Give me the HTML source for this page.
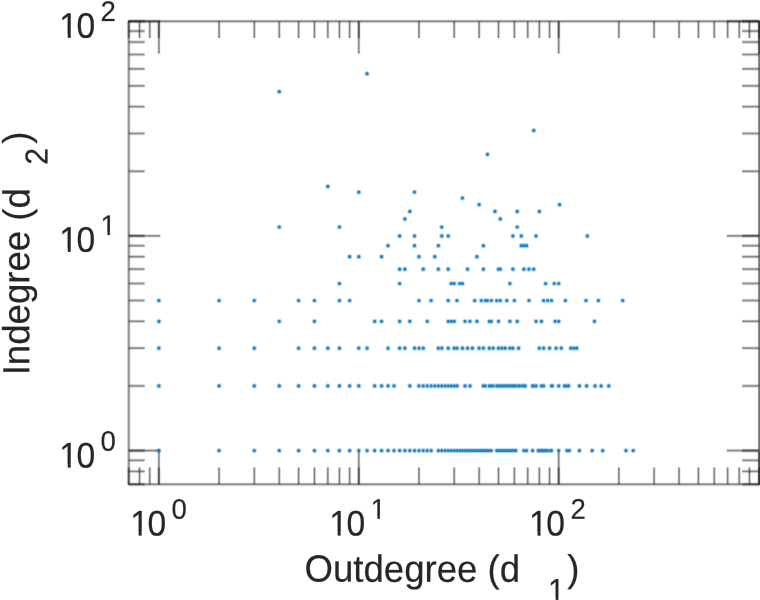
<!DOCTYPE html>
<html><head><meta charset="utf-8"><title>Degree scatter</title>
<style>
html,body{margin:0;padding:0;background:#fff;}
body{width:760px;height:600px;overflow:hidden;}
svg{display:block;}
text{font-family:"Liberation Sans",Arial,Helvetica,sans-serif;fill:#262626;stroke:#262626;stroke-width:0.35px;stroke-opacity:0.5;text-rendering:geometricPrecision;}
</style></head><body>
<svg width="760" height="600" viewBox="0 0 760 600">
<defs><clipPath id="c33_6"><rect x="-3.36" y="-33.60" width="33.60" height="30.24"/><rect x="8.45" y="-33.60" width="2.97" height="40.32"/></clipPath><clipPath id="c27_6"><rect x="-2.76" y="-27.60" width="27.60" height="24.84"/><rect x="6.94" y="-27.60" width="2.44" height="33.12"/></clipPath><clipPath id="c30_4"><rect x="-3.04" y="-30.40" width="30.40" height="27.36"/><rect x="7.65" y="-30.40" width="2.69" height="36.48"/></clipPath></defs>
<rect width="760" height="600" fill="#fff"/>
<g>
<g stroke="#262626" fill="none">
<path stroke-width="3.8" stroke-opacity="0.12" d="M128.25 21.3H759.7M128.25 484.3H759.7"/>
<path stroke-width="2.4" stroke-opacity="0.22" d="M128.25 21.3H759.7M128.25 484.3H759.7"/>
<path stroke-width="1.2" stroke-opacity="0.3" d="M128.25 21.3H759.7M128.25 484.3H759.7"/>
<path stroke-width="3.2" stroke-opacity="0.12" d="M759.2 20.8V484.8"/>
<path stroke-width="2.0" stroke-opacity="0.25" d="M759.2 20.8V484.8"/>
<path stroke-width="1.0" stroke-opacity="0.4" d="M759.2 20.8V484.8"/>
<path stroke-width="3.8" stroke-opacity="0.12" d="M128.75 20.8V484.8"/>
<path stroke-width="2.4" stroke-opacity="0.22" d="M128.75 20.8V484.8"/>
<path stroke-width="1.2" stroke-opacity="0.3" d="M128.75 20.8V484.8"/>
<path stroke-width="1.3" stroke-opacity="0.3" d="M759.2 21.3V484.3"/>
<path stroke-width="3.8" stroke-opacity="0.12" d="M128.75 450.55L160.25 450.55M759.20 450.55L726.80 450.55M128.75 235.90L160.25 235.90M759.20 235.90L726.80 235.90M128.75 21.30L160.25 21.30M759.20 21.30L726.80 21.30"/>
<path stroke-width="2.4" stroke-opacity="0.22" d="M128.75 450.55L160.25 450.55M759.20 450.55L726.80 450.55M128.75 235.90L160.25 235.90M759.20 235.90L726.80 235.90M128.75 21.30L160.25 21.30M759.20 21.30L726.80 21.30"/>
<path stroke-width="1.2" stroke-opacity="0.3" d="M128.75 450.55L160.25 450.55M759.20 450.55L726.80 450.55M128.75 235.90L160.25 235.90M759.20 235.90L726.80 235.90M128.75 21.30L160.25 21.30M759.20 21.30L726.80 21.30"/>
<path stroke-width="3.2" stroke-opacity="0.12" d="M158.90 484.30L158.90 452.00M158.90 21.30L158.90 53.60M358.80 484.30L358.80 452.00M358.80 21.30L358.80 53.60M558.70 484.30L558.70 452.00M558.70 21.30L558.70 53.60M759.20 484.30L759.20 452.00M759.20 21.30L759.20 53.60"/>
<path stroke-width="2.0" stroke-opacity="0.25" d="M158.90 484.30L158.90 452.00M158.90 21.30L158.90 53.60M358.80 484.30L358.80 452.00M358.80 21.30L358.80 53.60M558.70 484.30L558.70 452.00M558.70 21.30L558.70 53.60M759.20 484.30L759.20 452.00M759.20 21.30L759.20 53.60"/>
<path stroke-width="1.0" stroke-opacity="0.4" d="M158.90 484.30L158.90 452.00M158.90 21.30L158.90 53.60M358.80 484.30L358.80 452.00M358.80 21.30L358.80 53.60M558.70 484.30L558.70 452.00M558.70 21.30L558.70 53.60M759.20 484.30L759.20 452.00M759.20 21.30L759.20 53.60"/>
<path stroke-width="3.8" stroke-opacity="0.12" d="M128.75 484.30L144.65 484.30M759.20 484.30L742.20 484.30M128.75 471.35L144.65 471.35M759.20 471.35L742.20 471.35M128.75 460.37L144.65 460.37M759.20 460.37L742.20 460.37M128.75 450.55L144.65 450.55M759.20 450.55L742.20 450.55M128.75 385.93L144.65 385.93M759.20 385.93L742.20 385.93M128.75 348.14L144.65 348.14M759.20 348.14L742.20 348.14M128.75 321.32L144.65 321.32M759.20 321.32L742.20 321.32M128.75 300.52L144.65 300.52M759.20 300.52L742.20 300.52M128.75 283.52L144.65 283.52M759.20 283.52L742.20 283.52M128.75 269.15L144.65 269.15M759.20 269.15L742.20 269.15M128.75 256.70L144.65 256.70M759.20 256.70L742.20 256.70M128.75 245.72L144.65 245.72M759.20 245.72L742.20 245.72M128.75 235.90L144.65 235.90M759.20 235.90L742.20 235.90M128.75 171.28L144.65 171.28M759.20 171.28L742.20 171.28M128.75 133.49L144.65 133.49M759.20 133.49L742.20 133.49M128.75 106.67L144.65 106.67M759.20 106.67L742.20 106.67M128.75 85.87L144.65 85.87M759.20 85.87L742.20 85.87M128.75 68.87L144.65 68.87M759.20 68.87L742.20 68.87M128.75 54.50L144.65 54.50M759.20 54.50L742.20 54.50M128.75 42.05L144.65 42.05M759.20 42.05L742.20 42.05M128.75 31.07L144.65 31.07M759.20 31.07L742.20 31.07M128.75 21.30L144.65 21.30M759.20 21.30L742.20 21.30"/>
<path stroke-width="2.4" stroke-opacity="0.22" d="M128.75 484.30L144.65 484.30M759.20 484.30L742.20 484.30M128.75 471.35L144.65 471.35M759.20 471.35L742.20 471.35M128.75 460.37L144.65 460.37M759.20 460.37L742.20 460.37M128.75 450.55L144.65 450.55M759.20 450.55L742.20 450.55M128.75 385.93L144.65 385.93M759.20 385.93L742.20 385.93M128.75 348.14L144.65 348.14M759.20 348.14L742.20 348.14M128.75 321.32L144.65 321.32M759.20 321.32L742.20 321.32M128.75 300.52L144.65 300.52M759.20 300.52L742.20 300.52M128.75 283.52L144.65 283.52M759.20 283.52L742.20 283.52M128.75 269.15L144.65 269.15M759.20 269.15L742.20 269.15M128.75 256.70L144.65 256.70M759.20 256.70L742.20 256.70M128.75 245.72L144.65 245.72M759.20 245.72L742.20 245.72M128.75 235.90L144.65 235.90M759.20 235.90L742.20 235.90M128.75 171.28L144.65 171.28M759.20 171.28L742.20 171.28M128.75 133.49L144.65 133.49M759.20 133.49L742.20 133.49M128.75 106.67L144.65 106.67M759.20 106.67L742.20 106.67M128.75 85.87L144.65 85.87M759.20 85.87L742.20 85.87M128.75 68.87L144.65 68.87M759.20 68.87L742.20 68.87M128.75 54.50L144.65 54.50M759.20 54.50L742.20 54.50M128.75 42.05L144.65 42.05M759.20 42.05L742.20 42.05M128.75 31.07L144.65 31.07M759.20 31.07L742.20 31.07M128.75 21.30L144.65 21.30M759.20 21.30L742.20 21.30"/>
<path stroke-width="1.2" stroke-opacity="0.3" d="M128.75 484.30L144.65 484.30M759.20 484.30L742.20 484.30M128.75 471.35L144.65 471.35M759.20 471.35L742.20 471.35M128.75 460.37L144.65 460.37M759.20 460.37L742.20 460.37M128.75 450.55L144.65 450.55M759.20 450.55L742.20 450.55M128.75 385.93L144.65 385.93M759.20 385.93L742.20 385.93M128.75 348.14L144.65 348.14M759.20 348.14L742.20 348.14M128.75 321.32L144.65 321.32M759.20 321.32L742.20 321.32M128.75 300.52L144.65 300.52M759.20 300.52L742.20 300.52M128.75 283.52L144.65 283.52M759.20 283.52L742.20 283.52M128.75 269.15L144.65 269.15M759.20 269.15L742.20 269.15M128.75 256.70L144.65 256.70M759.20 256.70L742.20 256.70M128.75 245.72L144.65 245.72M759.20 245.72L742.20 245.72M128.75 235.90L144.65 235.90M759.20 235.90L742.20 235.90M128.75 171.28L144.65 171.28M759.20 171.28L742.20 171.28M128.75 133.49L144.65 133.49M759.20 133.49L742.20 133.49M128.75 106.67L144.65 106.67M759.20 106.67L742.20 106.67M128.75 85.87L144.65 85.87M759.20 85.87L742.20 85.87M128.75 68.87L144.65 68.87M759.20 68.87L742.20 68.87M128.75 54.50L144.65 54.50M759.20 54.50L742.20 54.50M128.75 42.05L144.65 42.05M759.20 42.05L742.20 42.05M128.75 31.07L144.65 31.07M759.20 31.07L742.20 31.07M128.75 21.30L144.65 21.30M759.20 21.30L742.20 21.30"/>
<path stroke-width="3.2" stroke-opacity="0.12" d="M128.75 484.30L128.75 467.50M128.75 21.30L128.75 38.10M139.53 484.30L139.53 467.50M139.53 21.30L139.53 38.10M149.75 484.30L149.75 467.50M149.75 21.30L149.75 38.10M158.90 484.30L158.90 467.50M158.90 21.30L158.90 38.10M219.08 484.30L219.08 467.50M219.08 21.30L219.08 38.10M254.28 484.30L254.28 467.50M254.28 21.30L254.28 38.10M279.25 484.30L279.25 467.50M279.25 21.30L279.25 38.10M298.62 484.30L298.62 467.50M298.62 21.30L298.62 38.10M314.45 484.30L314.45 467.50M314.45 21.30L314.45 38.10M327.84 484.30L327.84 467.50M327.84 21.30L327.84 38.10M339.43 484.30L339.43 467.50M339.43 21.30L339.43 38.10M349.65 484.30L349.65 467.50M349.65 21.30L349.65 38.10M358.80 484.30L358.80 467.50M358.80 21.30L358.80 38.10M418.98 484.30L418.98 467.50M418.98 21.30L418.98 38.10M454.18 484.30L454.18 467.50M454.18 21.30L454.18 38.10M479.15 484.30L479.15 467.50M479.15 21.30L479.15 38.10M498.52 484.30L498.52 467.50M498.52 21.30L498.52 38.10M514.35 484.30L514.35 467.50M514.35 21.30L514.35 38.10M527.74 484.30L527.74 467.50M527.74 21.30L527.74 38.10M539.33 484.30L539.33 467.50M539.33 21.30L539.33 38.10M549.55 484.30L549.55 467.50M549.55 21.30L549.55 38.10M558.70 484.30L558.70 467.50M558.70 21.30L558.70 38.10M618.88 484.30L618.88 467.50M618.88 21.30L618.88 38.10M654.08 484.30L654.08 467.50M654.08 21.30L654.08 38.10M679.05 484.30L679.05 467.50M679.05 21.30L679.05 38.10M698.42 484.30L698.42 467.50M698.42 21.30L698.42 38.10M714.25 484.30L714.25 467.50M714.25 21.30L714.25 38.10M727.64 484.30L727.64 467.50M727.64 21.30L727.64 38.10M739.23 484.30L739.23 467.50M739.23 21.30L739.23 38.10M749.45 484.30L749.45 467.50M749.45 21.30L749.45 38.10M759.20 484.30L759.20 467.50M759.20 21.30L759.20 38.10"/>
<path stroke-width="2.0" stroke-opacity="0.25" d="M128.75 484.30L128.75 467.50M128.75 21.30L128.75 38.10M139.53 484.30L139.53 467.50M139.53 21.30L139.53 38.10M149.75 484.30L149.75 467.50M149.75 21.30L149.75 38.10M158.90 484.30L158.90 467.50M158.90 21.30L158.90 38.10M219.08 484.30L219.08 467.50M219.08 21.30L219.08 38.10M254.28 484.30L254.28 467.50M254.28 21.30L254.28 38.10M279.25 484.30L279.25 467.50M279.25 21.30L279.25 38.10M298.62 484.30L298.62 467.50M298.62 21.30L298.62 38.10M314.45 484.30L314.45 467.50M314.45 21.30L314.45 38.10M327.84 484.30L327.84 467.50M327.84 21.30L327.84 38.10M339.43 484.30L339.43 467.50M339.43 21.30L339.43 38.10M349.65 484.30L349.65 467.50M349.65 21.30L349.65 38.10M358.80 484.30L358.80 467.50M358.80 21.30L358.80 38.10M418.98 484.30L418.98 467.50M418.98 21.30L418.98 38.10M454.18 484.30L454.18 467.50M454.18 21.30L454.18 38.10M479.15 484.30L479.15 467.50M479.15 21.30L479.15 38.10M498.52 484.30L498.52 467.50M498.52 21.30L498.52 38.10M514.35 484.30L514.35 467.50M514.35 21.30L514.35 38.10M527.74 484.30L527.74 467.50M527.74 21.30L527.74 38.10M539.33 484.30L539.33 467.50M539.33 21.30L539.33 38.10M549.55 484.30L549.55 467.50M549.55 21.30L549.55 38.10M558.70 484.30L558.70 467.50M558.70 21.30L558.70 38.10M618.88 484.30L618.88 467.50M618.88 21.30L618.88 38.10M654.08 484.30L654.08 467.50M654.08 21.30L654.08 38.10M679.05 484.30L679.05 467.50M679.05 21.30L679.05 38.10M698.42 484.30L698.42 467.50M698.42 21.30L698.42 38.10M714.25 484.30L714.25 467.50M714.25 21.30L714.25 38.10M727.64 484.30L727.64 467.50M727.64 21.30L727.64 38.10M739.23 484.30L739.23 467.50M739.23 21.30L739.23 38.10M749.45 484.30L749.45 467.50M749.45 21.30L749.45 38.10M759.20 484.30L759.20 467.50M759.20 21.30L759.20 38.10"/>
<path stroke-width="1.0" stroke-opacity="0.4" d="M128.75 484.30L128.75 467.50M128.75 21.30L128.75 38.10M139.53 484.30L139.53 467.50M139.53 21.30L139.53 38.10M149.75 484.30L149.75 467.50M149.75 21.30L149.75 38.10M158.90 484.30L158.90 467.50M158.90 21.30L158.90 38.10M219.08 484.30L219.08 467.50M219.08 21.30L219.08 38.10M254.28 484.30L254.28 467.50M254.28 21.30L254.28 38.10M279.25 484.30L279.25 467.50M279.25 21.30L279.25 38.10M298.62 484.30L298.62 467.50M298.62 21.30L298.62 38.10M314.45 484.30L314.45 467.50M314.45 21.30L314.45 38.10M327.84 484.30L327.84 467.50M327.84 21.30L327.84 38.10M339.43 484.30L339.43 467.50M339.43 21.30L339.43 38.10M349.65 484.30L349.65 467.50M349.65 21.30L349.65 38.10M358.80 484.30L358.80 467.50M358.80 21.30L358.80 38.10M418.98 484.30L418.98 467.50M418.98 21.30L418.98 38.10M454.18 484.30L454.18 467.50M454.18 21.30L454.18 38.10M479.15 484.30L479.15 467.50M479.15 21.30L479.15 38.10M498.52 484.30L498.52 467.50M498.52 21.30L498.52 38.10M514.35 484.30L514.35 467.50M514.35 21.30L514.35 38.10M527.74 484.30L527.74 467.50M527.74 21.30L527.74 38.10M539.33 484.30L539.33 467.50M539.33 21.30L539.33 38.10M549.55 484.30L549.55 467.50M549.55 21.30L549.55 38.10M558.70 484.30L558.70 467.50M558.70 21.30L558.70 38.10M618.88 484.30L618.88 467.50M618.88 21.30L618.88 38.10M654.08 484.30L654.08 467.50M654.08 21.30L654.08 38.10M679.05 484.30L679.05 467.50M679.05 21.30L679.05 38.10M698.42 484.30L698.42 467.50M698.42 21.30L698.42 38.10M714.25 484.30L714.25 467.50M714.25 21.30L714.25 38.10M727.64 484.30L727.64 467.50M727.64 21.30L727.64 38.10M739.23 484.30L739.23 467.50M739.23 21.30L739.23 38.10M749.45 484.30L749.45 467.50M749.45 21.30L749.45 38.10M759.20 484.30L759.20 467.50M759.20 21.30L759.20 38.10"/>
</g>
<g fill="none" stroke="#0072BD" stroke-linecap="round">
<path stroke-width="5.2" stroke-opacity="0.28" d="M158.90 450.55h0M219.08 450.55h0M254.28 450.55h0M279.25 450.55h0M298.62 450.55h0M314.45 450.55h0M327.84 450.55h0M339.43 450.55h0M349.65 450.55h0M358.80 450.55h0M367.07 450.55h0M374.63 450.55h0M381.58 450.55h0M388.01 450.55h0M394.00 450.55h0M399.60 450.55h0M404.87 450.55h0M409.83 450.55h0M414.52 450.55h0M418.98 450.55h0M423.21 450.55h0M427.25 450.55h0M431.11 450.55h0M438.35 450.55h0M441.75 450.55h0M445.03 450.55h0M448.19 450.55h0M451.23 450.55h0M454.18 450.55h0M457.02 450.55h0M459.78 450.55h0M462.45 450.55h0M465.04 450.55h0M467.56 450.55h0M470.00 450.55h0M472.38 450.55h0M474.70 450.55h0M476.95 450.55h0M479.15 450.55h0M481.30 450.55h0M483.39 450.55h0M485.43 450.55h0M487.43 450.55h0M489.38 450.55h0M491.29 450.55h0M496.77 450.55h0M498.52 450.55h0M500.24 450.55h0M501.93 450.55h0M503.58 450.55h0M505.21 450.55h0M506.80 450.55h0M508.36 450.55h0M509.90 450.55h0M511.41 450.55h0M512.89 450.55h0M514.35 450.55h0M515.79 450.55h0M523.93 450.55h0M526.49 450.55h0M532.56 450.55h0M538.24 450.55h0M539.33 450.55h0M540.41 450.55h0M541.47 450.55h0M542.52 450.55h0M543.56 450.55h0M544.59 450.55h0M545.61 450.55h0M546.61 450.55h0M547.60 450.55h0M550.51 450.55h0M551.46 450.55h0M558.70 450.55h0M566.97 450.55h0M569.31 450.55h0M579.45 450.55h0M592.15 450.55h0M602.70 450.55h0M625.96 450.55h0M633.25 450.55h0M158.90 385.93h0M219.08 385.93h0M254.28 385.93h0M279.25 385.93h0M298.62 385.93h0M314.45 385.93h0M327.84 385.93h0M339.43 385.93h0M349.65 385.93h0M358.80 385.93h0M374.63 385.93h0M381.58 385.93h0M388.01 385.93h0M394.00 385.93h0M409.83 385.93h0M418.98 385.93h0M423.21 385.93h0M427.25 385.93h0M431.11 385.93h0M434.80 385.93h0M438.35 385.93h0M441.75 385.93h0M445.03 385.93h0M448.19 385.93h0M451.23 385.93h0M454.18 385.93h0M457.02 385.93h0M465.04 385.93h0M470.00 385.93h0M483.39 385.93h0M485.43 385.93h0M489.38 385.93h0M491.29 385.93h0M493.15 385.93h0M496.77 385.93h0M498.52 385.93h0M500.24 385.93h0M501.93 385.93h0M503.58 385.93h0M505.21 385.93h0M506.80 385.93h0M508.36 385.93h0M509.90 385.93h0M511.41 385.93h0M512.89 385.93h0M514.35 385.93h0M515.79 385.93h0M518.59 385.93h0M519.96 385.93h0M522.63 385.93h0M523.93 385.93h0M525.22 385.93h0M532.56 385.93h0M533.72 385.93h0M536.01 385.93h0M541.47 385.93h0M543.56 385.93h0M551.46 385.93h0M552.40 385.93h0M558.70 385.93h0M564.57 385.93h0M566.18 385.93h0M568.54 385.93h0M579.45 385.93h0M586.66 385.93h0M595.05 385.93h0M601.12 385.93h0M608.76 385.93h0M158.90 348.14h0M219.08 348.14h0M254.28 348.14h0M298.62 348.14h0M314.45 348.14h0M327.84 348.14h0M339.43 348.14h0M358.80 348.14h0M367.07 348.14h0M388.01 348.14h0M399.60 348.14h0M404.87 348.14h0M414.52 348.14h0M418.98 348.14h0M423.21 348.14h0M438.35 348.14h0M441.75 348.14h0M448.19 348.14h0M454.18 348.14h0M457.02 348.14h0M462.45 348.14h0M467.56 348.14h0M472.38 348.14h0M479.15 348.14h0M483.39 348.14h0M489.38 348.14h0M493.15 348.14h0M498.52 348.14h0M501.93 348.14h0M505.21 348.14h0M509.90 348.14h0M512.89 348.14h0M518.59 348.14h0M539.33 348.14h0M543.56 348.14h0M549.55 348.14h0M556.06 348.14h0M561.27 348.14h0M570.83 348.14h0M573.80 348.14h0M576.67 348.14h0M158.90 321.32h0M279.25 321.32h0M314.45 321.32h0M374.63 321.32h0M381.58 321.32h0M399.60 321.32h0M409.83 321.32h0M427.25 321.32h0M448.19 321.32h0M451.23 321.32h0M454.18 321.32h0M465.04 321.32h0M470.00 321.32h0M476.95 321.32h0M489.38 321.32h0M491.29 321.32h0M498.52 321.32h0M509.90 321.32h0M517.20 321.32h0M536.01 321.32h0M541.47 321.32h0M555.16 321.32h0M558.70 321.32h0M594.48 321.32h0M158.90 300.52h0M219.08 300.52h0M254.28 300.52h0M298.62 300.52h0M314.45 300.52h0M339.43 300.52h0M349.65 300.52h0M418.98 300.52h0M431.11 300.52h0M448.19 300.52h0M457.02 300.52h0M474.70 300.52h0M481.30 300.52h0M485.43 300.52h0M487.43 300.52h0M491.29 300.52h0M496.77 300.52h0M500.24 300.52h0M506.80 300.52h0M514.35 300.52h0M528.97 300.52h0M543.56 300.52h0M547.60 300.52h0M551.46 300.52h0M565.38 300.52h0M586.03 300.52h0M598.41 300.52h0M622.70 300.52h0M339.43 283.52h0M399.60 283.52h0M451.23 283.52h0M454.18 283.52h0M459.78 283.52h0M462.45 283.52h0M509.90 283.52h0M545.61 283.52h0M554.25 283.52h0M558.70 283.52h0M399.60 269.15h0M404.87 269.15h0M423.21 269.15h0M438.35 269.15h0M448.19 269.15h0M467.56 269.15h0M483.39 269.15h0M498.52 269.15h0M500.24 269.15h0M512.89 269.15h0M523.93 269.15h0M528.97 269.15h0M533.72 269.15h0M349.65 256.70h0M358.80 256.70h0M381.58 256.70h0M418.98 256.70h0M434.80 256.70h0M476.95 256.70h0M388.01 245.72h0M414.52 245.72h0M438.35 245.72h0M483.39 245.72h0M521.30 245.72h0M523.93 245.72h0M526.49 245.72h0M399.60 235.90h0M414.52 235.90h0M441.75 235.90h0M448.19 235.90h0M512.89 235.90h0M521.30 235.90h0M536.01 235.90h0M587.29 235.90h0M279.25 227.02h0M339.43 227.02h0M441.75 227.02h0M517.20 227.02h0M404.87 218.90h0M500.24 218.90h0M409.83 211.44h0M494.98 211.44h0M517.20 211.44h0M539.33 211.44h0M479.15 204.53h0M559.56 204.53h0M462.45 198.10h0M358.80 192.09h0M414.52 192.09h0M327.84 186.43h0M487.43 154.29h0M533.72 130.43h0M279.25 91.63h0M367.07 73.65h0"/>
<path stroke-width="3.2" stroke-opacity="0.8" d="M158.90 450.55h0M219.08 450.55h0M254.28 450.55h0M279.25 450.55h0M298.62 450.55h0M314.45 450.55h0M327.84 450.55h0M339.43 450.55h0M349.65 450.55h0M358.80 450.55h0M367.07 450.55h0M374.63 450.55h0M381.58 450.55h0M388.01 450.55h0M394.00 450.55h0M399.60 450.55h0M404.87 450.55h0M409.83 450.55h0M414.52 450.55h0M418.98 450.55h0M423.21 450.55h0M427.25 450.55h0M431.11 450.55h0M438.35 450.55h0M441.75 450.55h0M445.03 450.55h0M448.19 450.55h0M451.23 450.55h0M454.18 450.55h0M457.02 450.55h0M459.78 450.55h0M462.45 450.55h0M465.04 450.55h0M467.56 450.55h0M470.00 450.55h0M472.38 450.55h0M474.70 450.55h0M476.95 450.55h0M479.15 450.55h0M481.30 450.55h0M483.39 450.55h0M485.43 450.55h0M487.43 450.55h0M489.38 450.55h0M491.29 450.55h0M496.77 450.55h0M498.52 450.55h0M500.24 450.55h0M501.93 450.55h0M503.58 450.55h0M505.21 450.55h0M506.80 450.55h0M508.36 450.55h0M509.90 450.55h0M511.41 450.55h0M512.89 450.55h0M514.35 450.55h0M515.79 450.55h0M523.93 450.55h0M526.49 450.55h0M532.56 450.55h0M538.24 450.55h0M539.33 450.55h0M540.41 450.55h0M541.47 450.55h0M542.52 450.55h0M543.56 450.55h0M544.59 450.55h0M545.61 450.55h0M546.61 450.55h0M547.60 450.55h0M550.51 450.55h0M551.46 450.55h0M558.70 450.55h0M566.97 450.55h0M569.31 450.55h0M579.45 450.55h0M592.15 450.55h0M602.70 450.55h0M625.96 450.55h0M633.25 450.55h0M158.90 385.93h0M219.08 385.93h0M254.28 385.93h0M279.25 385.93h0M298.62 385.93h0M314.45 385.93h0M327.84 385.93h0M339.43 385.93h0M349.65 385.93h0M358.80 385.93h0M374.63 385.93h0M381.58 385.93h0M388.01 385.93h0M394.00 385.93h0M409.83 385.93h0M418.98 385.93h0M423.21 385.93h0M427.25 385.93h0M431.11 385.93h0M434.80 385.93h0M438.35 385.93h0M441.75 385.93h0M445.03 385.93h0M448.19 385.93h0M451.23 385.93h0M454.18 385.93h0M457.02 385.93h0M465.04 385.93h0M470.00 385.93h0M483.39 385.93h0M485.43 385.93h0M489.38 385.93h0M491.29 385.93h0M493.15 385.93h0M496.77 385.93h0M498.52 385.93h0M500.24 385.93h0M501.93 385.93h0M503.58 385.93h0M505.21 385.93h0M506.80 385.93h0M508.36 385.93h0M509.90 385.93h0M511.41 385.93h0M512.89 385.93h0M514.35 385.93h0M515.79 385.93h0M518.59 385.93h0M519.96 385.93h0M522.63 385.93h0M523.93 385.93h0M525.22 385.93h0M532.56 385.93h0M533.72 385.93h0M536.01 385.93h0M541.47 385.93h0M543.56 385.93h0M551.46 385.93h0M552.40 385.93h0M558.70 385.93h0M564.57 385.93h0M566.18 385.93h0M568.54 385.93h0M579.45 385.93h0M586.66 385.93h0M595.05 385.93h0M601.12 385.93h0M608.76 385.93h0M158.90 348.14h0M219.08 348.14h0M254.28 348.14h0M298.62 348.14h0M314.45 348.14h0M327.84 348.14h0M339.43 348.14h0M358.80 348.14h0M367.07 348.14h0M388.01 348.14h0M399.60 348.14h0M404.87 348.14h0M414.52 348.14h0M418.98 348.14h0M423.21 348.14h0M438.35 348.14h0M441.75 348.14h0M448.19 348.14h0M454.18 348.14h0M457.02 348.14h0M462.45 348.14h0M467.56 348.14h0M472.38 348.14h0M479.15 348.14h0M483.39 348.14h0M489.38 348.14h0M493.15 348.14h0M498.52 348.14h0M501.93 348.14h0M505.21 348.14h0M509.90 348.14h0M512.89 348.14h0M518.59 348.14h0M539.33 348.14h0M543.56 348.14h0M549.55 348.14h0M556.06 348.14h0M561.27 348.14h0M570.83 348.14h0M573.80 348.14h0M576.67 348.14h0M158.90 321.32h0M279.25 321.32h0M314.45 321.32h0M374.63 321.32h0M381.58 321.32h0M399.60 321.32h0M409.83 321.32h0M427.25 321.32h0M448.19 321.32h0M451.23 321.32h0M454.18 321.32h0M465.04 321.32h0M470.00 321.32h0M476.95 321.32h0M489.38 321.32h0M491.29 321.32h0M498.52 321.32h0M509.90 321.32h0M517.20 321.32h0M536.01 321.32h0M541.47 321.32h0M555.16 321.32h0M558.70 321.32h0M594.48 321.32h0M158.90 300.52h0M219.08 300.52h0M254.28 300.52h0M298.62 300.52h0M314.45 300.52h0M339.43 300.52h0M349.65 300.52h0M418.98 300.52h0M431.11 300.52h0M448.19 300.52h0M457.02 300.52h0M474.70 300.52h0M481.30 300.52h0M485.43 300.52h0M487.43 300.52h0M491.29 300.52h0M496.77 300.52h0M500.24 300.52h0M506.80 300.52h0M514.35 300.52h0M528.97 300.52h0M543.56 300.52h0M547.60 300.52h0M551.46 300.52h0M565.38 300.52h0M586.03 300.52h0M598.41 300.52h0M622.70 300.52h0M339.43 283.52h0M399.60 283.52h0M451.23 283.52h0M454.18 283.52h0M459.78 283.52h0M462.45 283.52h0M509.90 283.52h0M545.61 283.52h0M554.25 283.52h0M558.70 283.52h0M399.60 269.15h0M404.87 269.15h0M423.21 269.15h0M438.35 269.15h0M448.19 269.15h0M467.56 269.15h0M483.39 269.15h0M498.52 269.15h0M500.24 269.15h0M512.89 269.15h0M523.93 269.15h0M528.97 269.15h0M533.72 269.15h0M349.65 256.70h0M358.80 256.70h0M381.58 256.70h0M418.98 256.70h0M434.80 256.70h0M476.95 256.70h0M388.01 245.72h0M414.52 245.72h0M438.35 245.72h0M483.39 245.72h0M521.30 245.72h0M523.93 245.72h0M526.49 245.72h0M399.60 235.90h0M414.52 235.90h0M441.75 235.90h0M448.19 235.90h0M512.89 235.90h0M521.30 235.90h0M536.01 235.90h0M587.29 235.90h0M279.25 227.02h0M339.43 227.02h0M441.75 227.02h0M517.20 227.02h0M404.87 218.90h0M500.24 218.90h0M409.83 211.44h0M494.98 211.44h0M517.20 211.44h0M539.33 211.44h0M479.15 204.53h0M559.56 204.53h0M462.45 198.10h0M358.80 192.09h0M414.52 192.09h0M327.84 186.43h0M487.43 154.29h0M533.72 130.43h0M279.25 91.63h0M367.07 73.65h0"/>
</g>
<g>
<text transform="translate(130.20,535.40) rotate(0.03) scale(1,1.06)" font-size="33.6" clip-path="url(#c33_6)">1</text><text transform="translate(147.38,535.40) rotate(0.03) scale(1,1.06)" font-size="33.6">0</text><text transform="translate(171.50,518.80) rotate(0.03) scale(1,1.03)" font-size="27.6">0</text>
<text transform="translate(329.20,535.40) rotate(0.03) scale(1,1.06)" font-size="33.6" clip-path="url(#c33_6)">1</text><text transform="translate(346.38,535.40) rotate(0.03) scale(1,1.06)" font-size="33.6">0</text><text transform="translate(370.50,518.80) rotate(0.03) scale(1,1.03)" font-size="27.6" clip-path="url(#c27_6)">1</text>
<text transform="translate(529.10,535.40) rotate(0.03) scale(1,1.06)" font-size="33.6" clip-path="url(#c33_6)">1</text><text transform="translate(546.28,535.40) rotate(0.03) scale(1,1.06)" font-size="33.6">0</text><text transform="translate(570.40,518.80) rotate(0.03) scale(1,1.03)" font-size="27.6">2</text>
<text transform="translate(59.30,467.60) rotate(0.03) scale(1,1.06)" font-size="33.6" clip-path="url(#c33_6)">1</text><text transform="translate(76.48,467.60) rotate(0.03) scale(1,1.06)" font-size="33.6">0</text><text transform="translate(100.50,450.85) rotate(0.03) scale(1,1.03)" font-size="27.6">0</text>
<text transform="translate(59.30,251.75) rotate(0.03) scale(1,1.06)" font-size="33.6" clip-path="url(#c33_6)">1</text><text transform="translate(76.48,251.75) rotate(0.03) scale(1,1.06)" font-size="33.6">0</text><text transform="translate(100.50,235.00) rotate(0.03) scale(1,1.03)" font-size="27.6" clip-path="url(#c27_6)">1</text>
<text transform="translate(59.30,37.85) rotate(0.03) scale(1,1.06)" font-size="33.6" clip-path="url(#c33_6)">1</text><text transform="translate(76.48,37.85) rotate(0.03) scale(1,1.06)" font-size="33.6">0</text><text transform="translate(100.50,21.10) rotate(0.03) scale(1,1.03)" font-size="27.6">2</text>
<text transform="translate(304.50,581.60) rotate(0.03) scale(1,1.035)" font-size="36.6">Outdegree (d</text><text transform="translate(548.10,601.20) rotate(0.03) scale(1,1.06)" font-size="30.4" clip-path="url(#c30_4)">1</text><text transform="translate(567.30,581.60) rotate(0.03) scale(1,1.035)" font-size="36.6">)</text>
<g transform="translate(29.3,375.3) rotate(-90)"><text transform="translate(0.00,0.00) rotate(0.03) scale(1,1.03)" font-size="36.6">Indegree (d</text><text transform="translate(210.50,18.20) rotate(0.03) scale(1,1.045)" font-size="30.4">2</text><text transform="translate(231.63,0.00) rotate(0.03) scale(1,1.03)" font-size="36.6">)</text></g>
</g>
</g>
</svg>
</body></html>
